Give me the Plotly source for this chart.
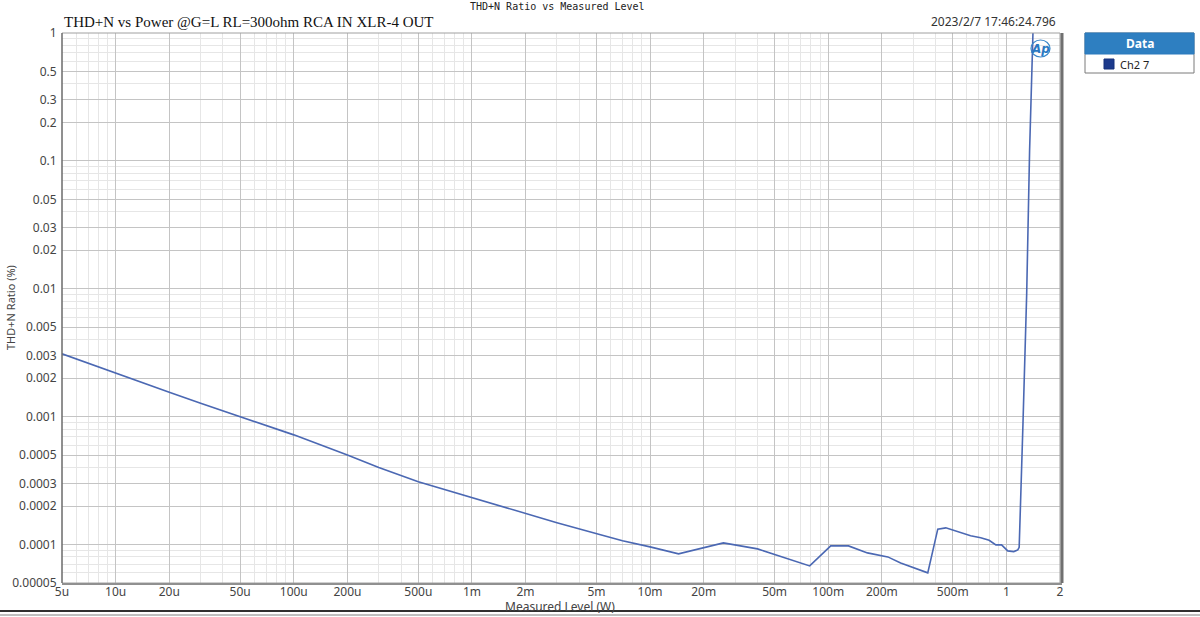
import plotly.graph_objects as go

# ---- data ----
power_w = [5e-6, 5.9e-6, 1e-5, 2e-5, 3e-5, 5e-5, 1e-4, 2e-4, 3e-4, 5e-4, 1e-3, 2e-3, 3e-3,
           5.27e-3, 7e-3, 1.0e-2, 1.445e-2, 2.58e-2, 4.01e-2, 7.87e-2, 1.033e-1, 1.30e-1,
           1.66e-1, 2.16e-1, 2.55e-1, 3.62e-1, 4.12e-1, 4.57e-1, 6.3e-1, 7.18e-1, 8.0e-1,
           8.73e-1, 9.4e-1, 1.018, 1.10, 1.159, 1.18, 1.24, 1.30, 1.35, 1.41]
thdn_pct = [0.0031, 0.00285, 0.00218, 0.00155, 0.00127, 0.00100, 0.00072, 0.00050, 0.00040,
            0.00031, 0.000232, 0.000174, 0.000148, 0.000119, 0.000107, 0.0000958, 0.0000845,
            0.000103, 0.0000924, 0.0000680, 0.0000975, 0.0000975, 0.0000860, 0.0000800,
            0.0000718, 0.0000600, 0.000132, 0.000135, 0.000117, 0.000113, 0.000108,
            0.0000993, 0.0000993, 0.0000891, 0.0000880, 0.0000907, 0.000095, 0.0009,
            0.009, 0.12, 1.0]

x_tick_vals = [5e-6, 1e-5, 2e-5, 5e-5, 1e-4, 2e-4, 5e-4, 1e-3, 2e-3, 5e-3, 1e-2, 2e-2, 5e-2,
               0.1, 0.2, 0.5, 1, 2]
x_tick_text = ["5u", "10u", "20u", "50u", "100u", "200u", "500u", "1m", "2m", "5m", "10m",
               "20m", "50m", "100m", "200m", "500m", "1", "2"]
y_tick_vals = [1, 0.5, 0.3, 0.2, 0.1, 0.05, 0.03, 0.02, 0.01, 0.005, 0.003, 0.002, 0.001,
               0.0005, 0.0003, 0.0002, 0.0001, 0.00005]
y_tick_text = ["1", "0.5", "0.3", "0.2", "0.1", "0.05", "0.03", "0.02", "0.01", "0.005",
               "0.003", "0.002", "0.001", "0.0005", "0.0003", "0.0002", "0.0001", "0.00005"]

title_text = "THD+N Ratio vs Measured Level"
subtitle_text = "THD+N vs Power @G=L RL=300ohm RCA IN XLR-4 OUT"
timestamp_text = "2023/2/7 17:46:24.796"
x_title = "Measured Level (W)"
y_title = "THD+N Ratio (%)"
legend_header = "Data"
series_name = "Ch2 7"

# minor grid positions (1..9 per decade)
def minor_positions(lo_exp, hi_exp):
    out = []
    for e in range(lo_exp, hi_exp + 1):
        for d in range(1, 10):
            out.append(d * 10.0 ** e)
    return out

x_minor = [v for v in minor_positions(-6, 0) if 5e-6 <= v <= 2]
y_minor = [v for v in minor_positions(-5, 0) if 5e-5 <= v <= 1]

W, H = 1200, 617
L, R, T, B = 62, 1060, 33, 583

def px(x):
    return (x - L) / (R - L)

def py(y):
    return (B - y) / (B - T)

fig = go.Figure()
fig.add_trace(go.Scatter(x=power_w, y=thdn_pct, mode="lines", name=series_name,
                         line=dict(color="#4b68b3", width=1.6), showlegend=False))

tick_font = dict(family="Noto Sans, Open Sans, sans-serif", size=12, color="#444444")

fig.update_xaxes(type="log", range=[-5.30103, 0.30103], tickvals=x_tick_vals,
                 ticktext=x_tick_text, showgrid=True, gridcolor="#c4c4c4", gridwidth=1,
                 minor=dict(tickvals=x_minor, showgrid=True, gridcolor="#e6e6e6", ticks=""),
                 ticks="", tickfont=tick_font, zeroline=False, showline=False,
                 automargin=False)
fig.update_yaxes(type="log", range=[-4.30103, 0], tickvals=y_tick_vals,
                 ticktext=y_tick_text, showgrid=True, gridcolor="#c4c4c4", gridwidth=1,
                 minor=dict(tickvals=y_minor, showgrid=True, gridcolor="#e6e6e6", ticks=""),
                 ticks="outside", ticklen=2, tickcolor="rgba(0,0,0,0)",
                 tickfont=tick_font, zeroline=False, showline=False,
                 automargin=False)

shapes = [
    # plot frame
    dict(type="rect", xref="paper", yref="paper", x0=0, y0=0, x1=1, y1=1,
         line=dict(color="#a0a0a0", width=1)),
    dict(type="line", xref="paper", yref="paper", x0=0, y0=0, x1=0, y1=1,
         line=dict(color="#505050", width=1)),
    dict(type="line", xref="paper", yref="paper", x0=1.002, y0=0, x1=1.002, y1=1,
         line=dict(color="#707070", width=3)),
    dict(type="line", xref="paper", yref="paper", x0=0, y0=-0.002, x1=1.002, y1=-0.002,
         line=dict(color="#909090", width=2)),
    # bottom window frame lines
    dict(type="line", xref="paper", yref="paper", x0=px(0), y0=py(611), x1=px(1200), y1=py(611),
         line=dict(color="#303030", width=2)),
    dict(type="line", xref="paper", yref="paper", x0=px(0), y0=py(615), x1=px(1200), y1=py(615),
         line=dict(color="#808080", width=1)),
    # legend box
    dict(type="rect", xref="paper", yref="paper", x0=px(1085), y0=py(73), x1=px(1194), y1=py(33),
         line=dict(color="#7a7a7a", width=1), fillcolor="white"),
    dict(type="rect", xref="paper", yref="paper", x0=px(1085), y0=py(54), x1=px(1194), y1=py(33),
         line=dict(color="#2b7bbd", width=1), fillcolor="#2e7fc1"),
    dict(type="rect", xref="paper", yref="paper", x0=px(1104), y0=py(69), x1=px(1114), y1=py(59),
         line=dict(color="#14307a", width=1), fillcolor="#1c3a8c"),
    # AP logo ring
    dict(type="circle", xref="paper", yref="paper", x0=px(1031), y0=py(57), x1=px(1050), y1=py(40),
         line=dict(color="#3a86c8", width=1.2)),
]

annotations = [
    dict(text=title_text, xref="paper", yref="paper", x=px(557), y=py(7), showarrow=False,
         font=dict(family="DejaVu Sans Mono, monospace", size=10, color="#222222"),
         xanchor="center", yanchor="middle"),
    dict(text=subtitle_text, xref="paper", yref="paper", x=px(62), y=py(22), showarrow=False,
         font=dict(family="Liberation Serif, serif", size=15, color="#111111"),
         xanchor="left", yanchor="middle"),
    dict(text=timestamp_text, xref="paper", yref="paper", x=px(1058), y=py(21), showarrow=False,
         font=dict(family="Noto Sans, sans-serif", size=12, color="#333333"),
         xanchor="right", yanchor="middle"),
    dict(text=x_title, xref="paper", yref="paper", x=px(560), y=py(606), showarrow=False,
         font=dict(family="Noto Sans, sans-serif", size=12, color="#444444"),
         xanchor="center", yanchor="middle"),
    dict(text=y_title, xref="paper", yref="paper", x=px(10), y=py(308), showarrow=False,
         textangle=-90,
         font=dict(family="Noto Sans, sans-serif", size=11, color="#444444"),
         xanchor="center", yanchor="middle"),
    dict(text="<b>" + legend_header + "</b>", xref="paper", yref="paper", x=px(1139.5), y=py(43.5),
         showarrow=False, font=dict(family="Noto Sans, sans-serif", size=12, color="white"),
         xanchor="center", yanchor="middle"),
    dict(text=series_name, xref="paper", yref="paper", x=px(1118), y=py(64), showarrow=False,
         font=dict(family="Noto Sans, sans-serif", size=11, color="#222222"),
         xanchor="left", yanchor="middle"),
    dict(text="<b><i>Ap</i></b>", xref="paper", yref="paper", x=px(1040.5), y=py(48.5),
         showarrow=False, font=dict(family="DejaVu Sans, sans-serif", size=12, color="#2a78c2"),
         xanchor="center", yanchor="middle"),
]

fig.update_layout(width=W, height=H, margin=dict(l=L, r=W - R, t=T, b=H - B),
                  paper_bgcolor="white", plot_bgcolor="white", shapes=shapes,
                  annotations=annotations, showlegend=False)

fig.write_html("out.html", config={"displayModeBar": False},
               post_script="document.body.style.margin='0px';document.body.style.overflow='hidden';")
